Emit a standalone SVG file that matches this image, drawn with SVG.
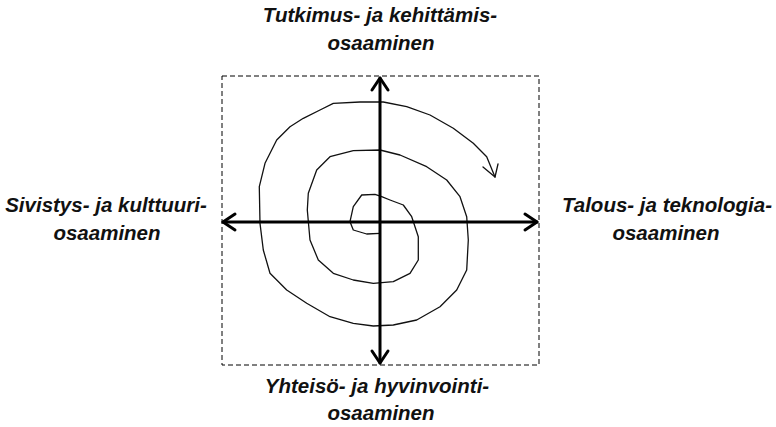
<svg xmlns="http://www.w3.org/2000/svg" width="776" height="427" viewBox="0 0 776 427">
  <style>
    .lbl { font-family: "Liberation Sans", Arial, sans-serif; font-size: 20.5px; font-weight: bold; font-style: italic; fill: #111; text-anchor: middle; }
    .axis { stroke: #000; stroke-width: 3; fill: none; stroke-linecap: round; stroke-linejoin: round; }
    .frame { stroke: #000; stroke-width: 1; fill: none; stroke-dasharray: 5 3; }
    .spiral { stroke: #111; stroke-width: 1.3; fill: none; stroke-linecap: round; stroke-linejoin: round; }
  </style>
  <rect width="776" height="427" fill="#fff"/>

  <g id="frame">
    <rect class="frame" x="222" y="76" width="317" height="289"/>
  </g>

  <g id="spiral">
    <polyline class="spiral" points="380,233.3 366.7,234 353.3,230 350,221.7 353.3,206.7 361.7,195 375,194.3 381.7,196.7 390,200 403.3,205 411.7,216.7 418.3,236.7 418.3,260 410,273.3 393.3,281.7 373.3,283.3 353.3,280 333.3,273.3 318.3,260 310,240 307.3,210 308.3,193.3 316.7,170 330,156.7 353.3,150.7 380,150 400,155 426.7,166.7 446.7,180 460,196.7 466.7,216.7 468.3,240 466.7,270 456.7,290 440,306.7 416.7,320 393.3,325 373.3,326 353.3,323.3 330,316.7 306.7,303.3 286.7,290 270,273.3 263.3,250 260,223.3 259.3,186.7 265,163.3 276.7,140 290,126.7 303.3,118.3 320,110 333.3,103.3 360,102 383.3,102 406.7,106.7 430,115 453.3,128.3 473.3,143.3 486.7,156.7 495,177"/>
    <polyline class="spiral" points="483,167 495,177 498,164"/>
  </g>

  <g id="connectors">
    <line class="axis" x1="380" y1="78" x2="380" y2="363"/>
    <line class="axis" x1="223" y1="222" x2="537" y2="222"/>
    <polyline class="axis" points="372,90 380,78 388,90"/>
    <polyline class="axis" points="372,351 380,363 388,351"/>
    <polyline class="axis" points="235,214 223,222 235,230"/>
    <polyline class="axis" points="525,214 537,222 525,230"/>
  </g>

  <g id="node-top">
    <text class="lbl" x="380" y="22">Tutkimus- ja kehittämis-</text>
    <text class="lbl" x="381" y="50">osaaminen</text>
  </g>
  <g id="node-left">
    <text class="lbl" x="106" y="212">Sivistys- ja kulttuuri-</text>
    <text class="lbl" x="107" y="240">osaaminen</text>
  </g>
  <g id="node-right">
    <text class="lbl" x="667" y="212">Talous- ja teknologia-</text>
    <text class="lbl" x="666" y="240">osaaminen</text>
  </g>
  <g id="node-bottom">
    <text class="lbl" x="377" y="393">Yhteisö- ja hyvinvointi-</text>
    <text class="lbl" x="381" y="420">osaaminen</text>
  </g>
</svg>
